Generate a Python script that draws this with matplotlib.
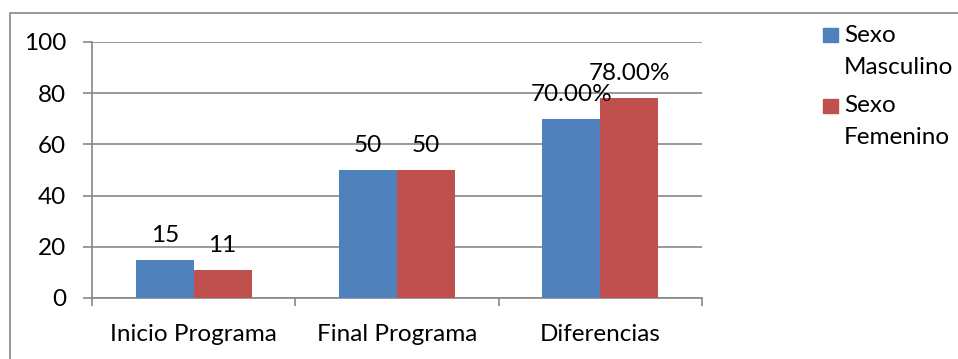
import matplotlib
matplotlib.use("Agg")
from matplotlib import pyplot as plt
from matplotlib.patches import Rectangle
import numpy as np

plt.rcParams['font.family'] = ['Lato', 'DejaVu Sans']

categories = ['Inicio Programa', 'Final Programa', 'Diferencias']
masculino = [15, 50, 70]
femenino = [11, 50, 78]
labels_masc = ['15', '50', '70.00%']
labels_fem = ['11', '50', '78.00%']
series_names = ['Sexo\nMasculino', 'Sexo\nFemenino']
colors = ['#4F81BD', '#C0504D']
grid_c = '#878787'
fs = 17.5

fig = plt.figure(figsize=(9.58, 3.59), dpi=100)
ax = fig.add_axes([92 / 958, 1 - 298 / 359, (702 - 92) / 958, (298 - 42) / 359])

x = np.arange(len(categories))
w = 0.285
b1 = ax.bar(x - w / 2, masculino, w, color=colors[0], zorder=3)
b2 = ax.bar(x + w / 2, femenino, w, color=colors[1], zorder=3)

for bars, labs in ((b1, labels_masc), (b2, labels_fem)):
    for rect, lab in zip(bars, labs):
        ax.annotate(lab, (rect.get_x() + rect.get_width() / 2, rect.get_height()),
                    xytext=(0, 13), textcoords='offset points',
                    ha='center', va='baseline', fontsize=fs, zorder=4)

ax.set_xlim(-0.5, len(categories) - 0.5)
ax.set_ylim(0, 100)
ax.set_yticks(range(0, 101, 20))
ax.yaxis.grid(True, color=grid_c, linewidth=1.2, zorder=0)
ax.set_xticks(x)
ax.set_xticklabels(categories)
ax.set_xticks(np.arange(-0.5, len(categories)), minor=True)
ax.tick_params(axis='x', which='major', length=0, pad=19, labelsize=fs)
ax.tick_params(axis='x', which='minor', length=6, width=1.2, color=grid_c, direction='out')
ax.tick_params(axis='y', length=6.5, width=1.2, color=grid_c, pad=12, labelsize=fs)
for s in ('top', 'right'):
    ax.spines[s].set_visible(False)
for s in ('left', 'bottom'):
    ax.spines[s].set_color(grid_c)
    ax.spines[s].set_linewidth(1.2)

# outer chart border
fig.patches.append(Rectangle((10 / 958, -0.1), 1.2, 1 - 13 / 359 + 0.1,
                             transform=fig.transFigure, fill=False,
                             edgecolor=grid_c, linewidth=1.2))

# legend
for i, (name, c) in enumerate(zip(series_names, colors)):
    top = 28 + i * 71
    fig.patches.append(Rectangle((823 / 958, 1 - (top + 14) / 359), 15 / 958, 14 / 359,
                                 transform=fig.transFigure, color=c))
    for j, line in enumerate(name.split('\n')):
        fig.text(844 / 958, 1 - (top + 7 + j * 32) / 359, line, fontsize=fs,
                 va='center', ha='left')

fig.savefig('out.png', dpi=100)
